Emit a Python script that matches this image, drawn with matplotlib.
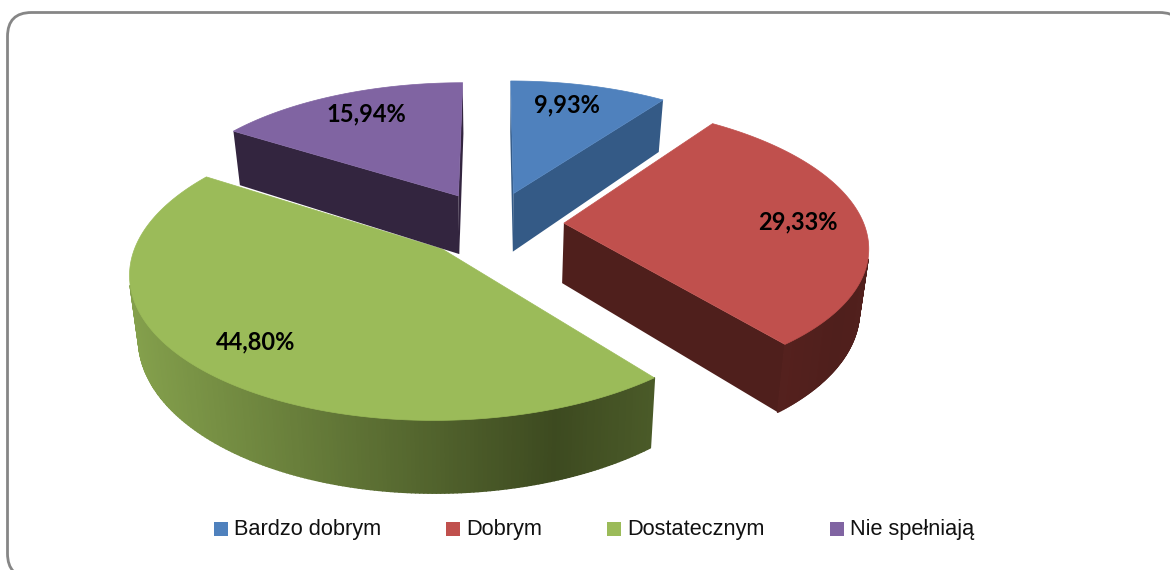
import numpy as np
import matplotlib
matplotlib.use('Agg')
from matplotlib import pyplot as plt
from matplotlib.collections import PolyCollection
from matplotlib.patches import FancyBboxPatch, Rectangle, Polygon
from matplotlib.colors import to_rgb

categories = ['Bardzo dobrym', 'Dobrym', 'Dostatecznym', 'Nie spełniają']
values = [9.93, 29.33, 44.80, 15.94]
labels = ['9,93%', '29,33%', '44,80%', '15,94%']

top_colors = ['#4f81bd', '#c0504d', '#9bbb59', '#8064a2']
side_colors = ['#345a86', '#4f1f1c', '#3d4a20', '#33253f']
side_light = ['#3f6a9c', '#5c2320', '#84a04c', '#4a3860']

# perspective of the pie, in pixels
cx, cy = 492, 224
A, B, K = 300, 137.6, 0.148
drop = 60
conv = 0.975
explode = 0.24


def project(u, v, low=False):
    w = 1 + K * v
    if low:
        return cx + conv * A * u / w, cy - B * v / w + drop / w
    return cx + A * u / w, cy - B * v / w


def area(pts):
    x, y = np.array(pts).T
    return 0.5 * np.sum(x * np.roll(y, -1) - np.roll(x, -1) * y)


fig = plt.figure(figsize=(11.7, 5.7), dpi=100)
ax = fig.add_axes([0, 0, 1, 1])
ax.set_xlim(0, 1170)
ax.set_ylim(570, 0)
ax.axis('off')

ax.add_patch(FancyBboxPatch((7.5, 12.5), 1176, 565, boxstyle='round,pad=0,rounding_size=24',
                            fc='white', ec='#868686', lw=2))

# angles clockwise from 12 o'clock
edges = np.radians(np.concatenate([[0], np.cumsum(values)]) * 3.6)
edges[-1] = 2 * np.pi

# paint back slices first so the front ones cover them
order = [3, 0, 1, 2]
for i in order:
    t0, t1 = edges[i], edges[i + 1]
    mid = (t0 + t1) / 2
    ex, ey = explode * np.sin(mid), explode * np.cos(mid)
    ts = np.linspace(t0, t1, 240)
    us = ex + np.sin(ts)
    vs = ey + np.cos(ts)

    apex = project(ex, ey)
    apex_low = project(ex, ey, True)

    # cut faces, only the ones turned to the viewer
    for t, sign in ((t0, -1), (t1, 1)):
        rim = project(ex + np.sin(t), ey + np.cos(t))
        rim_low = project(ex + np.sin(t), ey + np.cos(t), True)
        quad = [apex, rim, rim_low, apex_low]
        if area(quad) * sign > 0:
            ax.add_patch(Polygon(quad, closed=True, fc=side_colors[i], ec='none', zorder=2 + i))

    # outer wall, split in strips for the shading
    x_hi, y_hi = project(us, vs)
    x_lo, y_lo = project(us, vs, True)
    strips = [[(x_hi[j], y_hi[j]), (x_hi[j + 1], y_hi[j + 1]), (x_lo[j + 1], y_lo[j + 1]), (x_lo[j], y_lo[j])]
              for j in range(len(ts) - 1)]
    light, dark = np.array(to_rgb(side_light[i])), np.array(to_rgb(side_colors[i]))
    xm = (x_hi[:-1] + x_hi[1:]) / 2
    # darkest part of the wall sits near the right end
    f = np.clip((xm - x_hi.min()) / (0.81 * (x_hi.max() - x_hi.min())), 0, 1)[:, None]
    f = f - np.clip((xm - x_hi.min()) / (x_hi.max() - x_hi.min()) - 0.81, 0, 1)[:, None]
    cols = light + (dark - light) * f
    # back part of the rim cannot be seen
    front = [j for j, s in enumerate(strips) if area(s) < 0]
    if front:
        ax.add_collection(PolyCollection([strips[j] for j in front], facecolors=cols[front], edgecolors=cols[front],
                                         linewidths=1.2, zorder=2 + i))

    # top of the slice
    top = [apex] + list(zip(x_hi, y_hi))
    ax.add_patch(Polygon(top, closed=True, fc=top_colors[i], ec=top_colors[i], lw=0.5, zorder=2 + i))

# data labels
label_pos = [(567, 105), (798, 222), (256, 342), (366, 114)]
for lab, (x, y) in zip(labels, label_pos):
    ax.text(x, y, lab, ha='center', va='center', fontsize=17, fontweight='bold',
            family='Lato', color='black', zorder=10)

# legend
legend_box = [214, 446, 607, 830]
legend_text = [234, 466, 627, 850]
for name, col, bx, tx in zip(categories, top_colors, legend_box, legend_text):
    ax.add_patch(Rectangle((bx, 522), 14, 14, fc=col, ec='none', zorder=10))
    ax.text(tx, 529, name, ha='left', va='center', fontsize=15.7, family='Liberation Sans',
            color='#111111', zorder=10)

fig.savefig('out.png', dpi=100)
